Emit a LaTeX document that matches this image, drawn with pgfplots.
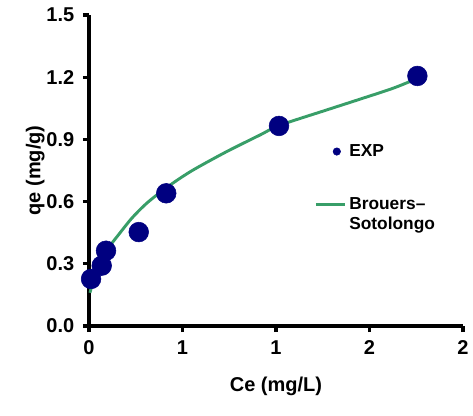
\documentclass[border=0pt]{standalone}
\usepackage{fontspec}
\setmainfont{Liberation Sans}
\usepackage{pgfplots}
\pgfplotsset{compat=1.18}
\definecolor{navyblue}{RGB}{0,0,128}
\definecolor{fitgreen}{RGB}{56,158,104}
\begin{document}
\begin{tikzpicture}
\useasboundingbox (0,0) rectangle (354.75pt,312pt);
\begin{axis}[
  at={(66.75pt,67.5pt)}, anchor=south west,
  scale only axis, width=280.5pt, height=233.25pt,
  xmin=0, xmax=2, ymin=0, ymax=1.5,
  axis x line*=bottom, axis y line*=left,
  axis line style={-, line width=2.8pt, black},
  major tick style={black, line width=2.4pt},
  tick align=outside, major tick length=4.5pt,
  xtick={0,0.5,1,1.5,2}, xticklabels={0,1,1,2,2},
  ytick={0,0.3,0.6,0.9,1.2,1.5}, yticklabels={0.0,0.3,0.6,0.9,1.2,1.5},
  /pgf/number format/assume math mode=true,
  tick label style={font=\fontsize{15}{17}\selectfont\bfseries},
  xticklabel style={yshift=-3pt},
  yticklabel style={xshift=-3pt},
  xlabel={Ce (mg/L)}, ylabel={qe (mg/g)},
  label style={font=\fontsize{15}{17}\selectfont\bfseries},
  xlabel style={at={(axis description cs:0.5,-0.193)}, anchor=center},
  ylabel style={at={(axis description cs:-0.144,0.5)}, anchor=center},
  legend style={at={(axis cs:1.183,0.902)}, anchor=north west, draw=none, fill=none,
    font=\fontsize{13}{15}\selectfont\bfseries, row sep=25.5pt,
    cells={anchor=west}},
  clip=false,
]
\addplot[only marks, mark=*, mark size=7.4pt, color=navyblue,
  legend image code/.code={\fill[navyblue] (0.55cm,0pt) circle (2.8pt);}]
  coordinates {(0.011,0.227) (0.068,0.291) (0.091,0.363) (0.266,0.453) (0.413,0.640) (1.016,0.965) (1.756,1.206)};
\addlegendentry{EXP}
\addplot[smooth, color=fitgreen, line width=2.2pt,
  legend image code/.code={\draw[fitgreen, line width=2.2pt] (0cm,0pt) -- (0.77cm,0pt);}]
  coordinates {(0.005,0.16) (0.03,0.24) (0.06,0.31) (0.091,0.362) (0.157,0.439) (0.228,0.519) (0.3,0.585) (0.36,0.63) (0.45,0.69) (0.558,0.753) (0.736,0.841) (0.914,0.921) (1.02,0.968) (1.271,1.042) (1.449,1.094) (1.627,1.147) (1.758,1.195)};
\addlegendentry{\makebox[0pt][l]{\raisebox{-14.5pt}[0pt][0pt]{Sotolongo}}Brouers--}
\end{axis}
\end{tikzpicture}
\end{document}
